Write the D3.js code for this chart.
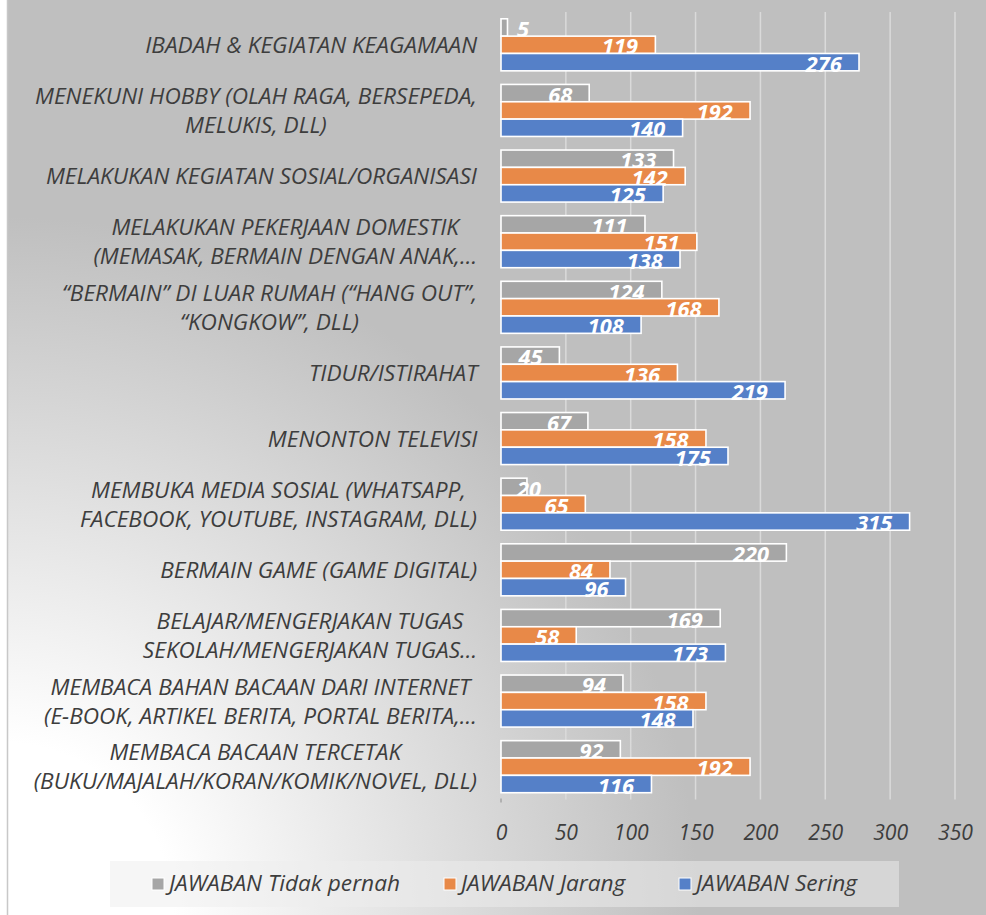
<!DOCTYPE html>
<html>
<head>
<meta charset="utf-8">
<script src="https://cdn.jsdelivr.net/npm/d3@7"></script>
<style>
  html, body { margin: 0; padding: 0; background: #ffffff; }
  svg { display: block; }
</style>
</head>
<body>
<div id="chart"></div>
<script>
// category labels, one array per category (line breaks as in the chart)
const categoryLines = [
    ['IBADAH & KEGIATAN KEAGAMAAN'],
    ['MENEKUNI HOBBY (OLAH RAGA, BERSEPEDA,', 'MELUKIS, DLL)'],
    ['MELAKUKAN KEGIATAN SOSIAL/ORGANISASI'],
    ['MELAKUKAN PEKERJAAN DOMESTIK', '(MEMASAK, BERMAIN DENGAN ANAK,\u2026'],
    ['\u201cBERMAIN\u201d DI LUAR RUMAH (\u201cHANG OUT\u201d,', '\u201cKONGKOW\u201d, DLL)'],
    ['TIDUR/ISTIRAHAT'],
    ['MENONTON TELEVISI'],
    ['MEMBUKA MEDIA SOSIAL (WHATSAPP,', 'FACEBOOK, YOUTUBE, INSTAGRAM, DLL)'],
    ['BERMAIN GAME (GAME DIGITAL)'],
    ['BELAJAR/MENGERJAKAN TUGAS', 'SEKOLAH/MENGERJAKAN TUGAS\u2026'],
    ['MEMBACA BAHAN BACAAN DARI INTERNET', '(E-BOOK, ARTIKEL BERITA, PORTAL BERITA,\u2026'],
    ['MEMBACA BACAAN TERCETAK', '(BUKU/MAJALAH/KORAN/KOMIK/NOVEL, DLL)']
];
const categories = categoryLines.map(l => l.join(' '));

const tidakPernah = [5, 68, 133, 111, 124, 45, 67, 20, 220, 169, 94, 92];
const jarang      = [119, 192, 142, 151, 168, 136, 158, 65, 84, 58, 158, 192];
const sering      = [276, 140, 125, 138, 108, 219, 175, 315, 96, 173, 148, 116];

const seriesNames = ['JAWABAN Tidak pernah', 'JAWABAN Jarang', 'JAWABAN Sering'];
const seriesValues = [tidakPernah, jarang, sering];
const seriesColors = ['#a6a6a6', '#e88948', '#5580c8'];

const xTicks = [0, 50, 100, 150, 200, 250, 300, 350];

const width = 986,
      height = 915,
      font = '"Open Sans", "Noto Sans", sans-serif',
      textColor = '#3d3d3d';

let svg = d3.select('#chart')
    .append('svg')
        .attr('width', width)
        .attr('height', height);

let defs = svg.append('defs');
let grad = defs.append('radialGradient')
    .attr('id', 'bg-grad')
    .attr('gradientUnits', 'userSpaceOnUse')
    .attr('cx', 0)
    .attr('cy', 915)
    .attr('r', 720);
grad.append('stop').attr('offset', 0).attr('stop-color', '#ffffff');
grad.append('stop').attr('offset', 0.24).attr('stop-color', '#ffffff');
grad.append('stop').attr('offset', 0.97).attr('stop-color', '#bfbfbf');

svg.append('rect')
    .attr('x', 7)
    .attr('y', 0)
    .attr('width', width - 7)
    .attr('height', height)
    .attr('fill', 'url(#bg-grad)');

svg.append('line')
    .attr('x1', 7.5).attr('x2', 7.5)
    .attr('y1', 0).attr('y2', height)
    .attr('stroke', '#c8c8c8')
    .attr('stroke-width', 1.5);

// scales
let x = d3.scaleLinear()
    .domain([0, 350])
    .range([501, 955]);

let y = d3.scaleBand()
    .domain(categories)
    .range([12, 799.5])
    .paddingInner(0.207)
    .paddingOuter(0.1035);

let ySub = d3.scaleBand()
    .domain(seriesNames)
    .range([0, y.bandwidth()]);

// horizontal squeeze so the text widths follow the original narrow face
function squeezeFactor(styleFn, str, target) {
    let t = svg.append('text').call(styleFn).text(str);
    let w = t.node().getComputedTextLength();
    t.remove();
    return target / w;
}
function squeeze(sel, k) {
    sel.each(function () {
        let w = this.getComputedTextLength();
        d3.select(this)
            .attr('textLength', w * k)
            .attr('lengthAdjust', 'spacingAndGlyphs');
    });
}

const catStyle = s => s.style('font-family', font).style('font-size', '22.5px')
    .style('font-style', 'italic').attr('fill', textColor);
const tickStyle = s => s.style('font-family', font).style('font-size', '22px')
    .style('font-style', 'italic').attr('fill', textColor);
const legendStyle = s => s.style('font-family', font).style('font-size', '21px')
    .style('font-style', 'italic').attr('fill', textColor);
const valueStyle = s => s.style('font-family', font).style('font-size', '21px')
    .style('font-style', 'italic').style('font-weight', 'bold').attr('fill', '#ffffff');

const kCat = squeezeFactor(catStyle, 'MELAKUKAN KEGIATAN SOSIAL/ORGANISASI', 431);
const kTick = squeezeFactor(tickStyle, '100', 35);
const kLegend = squeezeFactor(legendStyle, 'JAWABAN Tidak pernah', 231);
const kValue = squeezeFactor(valueStyle, '276', 36);

// gridlines
svg.append('g')
    .attr('class', 'grid')
    .selectAll('line')
    .data(xTicks.filter(d => d > 0))
    .enter()
    .append('line')
        .attr('x1', d => x(d)).attr('x2', d => x(d))
        .attr('y1', y.range()[0]).attr('y2', y.range()[1])
        .attr('stroke', '#dadada')
        .attr('stroke-width', 1.5);

svg.append('line')
    .attr('x1', x(0)).attr('x2', x(0))
    .attr('y1', y.range()[1] - 1).attr('y2', y.range()[1] + 3)
    .attr('stroke', '#8c8c8c')
    .attr('stroke-width', 1);

// x axis labels
let xAxisG = svg.append('g')
    .attr('transform', 'translate(0,' + 840 + ')')
    .call(d3.axisBottom(x).tickValues(xTicks).tickSize(0).tickPadding(0));
xAxisG.select('.domain').remove();
xAxisG.selectAll('text')
    .attr('y', 0)
    .attr('dy', 0)
    .call(tickStyle)
    .call(squeeze, kTick);

// bars, series by series so each label sits under the next series' bar
seriesNames.forEach((name, si) => {
    let g = svg.append('g').attr('class', 'series-' + si);
    let vals = seriesValues[si];

    g.selectAll('rect')
        .data(categories)
        .enter()
        .append('rect')
            .attr('x', x(0))
            .attr('y', d => y(d) + ySub(name))
            .attr('width', (d, i) => x(vals[i]) - x(0))
            .attr('height', ySub.bandwidth())
            .attr('fill', seriesColors[si])
            .attr('stroke', '#ffffff')
            .attr('stroke-width', 1.6);

    g.selectAll('text')
        .data(categories)
        .enter()
        .append('text')
            .text((d, i) => vals[i])
            .call(valueStyle)
            .call(squeeze, kValue)
            .attr('y', d => y(d) + ySub(name) + ySub.bandwidth() + 1)
            .attr('x', function (d, i) {
                let w = this.getComputedTextLength() * kValue;
                return Math.max(x(vals[i]) - 16 - w, x(0) + 16);
            });
});

// category labels
let catG = svg.append('g').attr('class', 'categories');
categoryLines.forEach((lines, ci) => {
    let cy = y(categories[ci]) + y.bandwidth() / 2;
    let lg = catG.append('g');
    let texts = lg.selectAll('text')
        .data(lines)
        .enter()
        .append('text')
            .text(d => d)
            .call(catStyle)
            .call(squeeze, kCat)
            .attr('text-anchor', 'middle')
            .attr('y', (d, i) => cy + (i - (lines.length - 1) / 2) * 29 + 8);
    let maxW = d3.max(texts.nodes(), n => n.getComputedTextLength() * kCat);
    texts.attr('x', 478 - maxW / 2);
});

// legend
let legendG = svg.append('g').attr('class', 'legend');
legendG.append('rect')
    .attr('x', 110)
    .attr('y', 861)
    .attr('width', 789)
    .attr('height', 46)
    .attr('fill', '#ededed')
    .attr('fill-opacity', 0.5);

const legendX = [152, 444, 679];
seriesNames.forEach((name, si) => {
    legendG.append('rect')
        .attr('x', legendX[si])
        .attr('y', 878)
        .attr('width', 12)
        .attr('height', 12)
        .attr('fill', seriesColors[si])
        .attr('stroke', '#ffffff')
        .attr('stroke-width', 1);
    legendG.append('text')
        .attr('x', legendX[si] + 17)
        .attr('y', 891)
        .text(name)
        .call(legendStyle)
        .call(squeeze, kLegend);
});
</script>
</body>
</html>
